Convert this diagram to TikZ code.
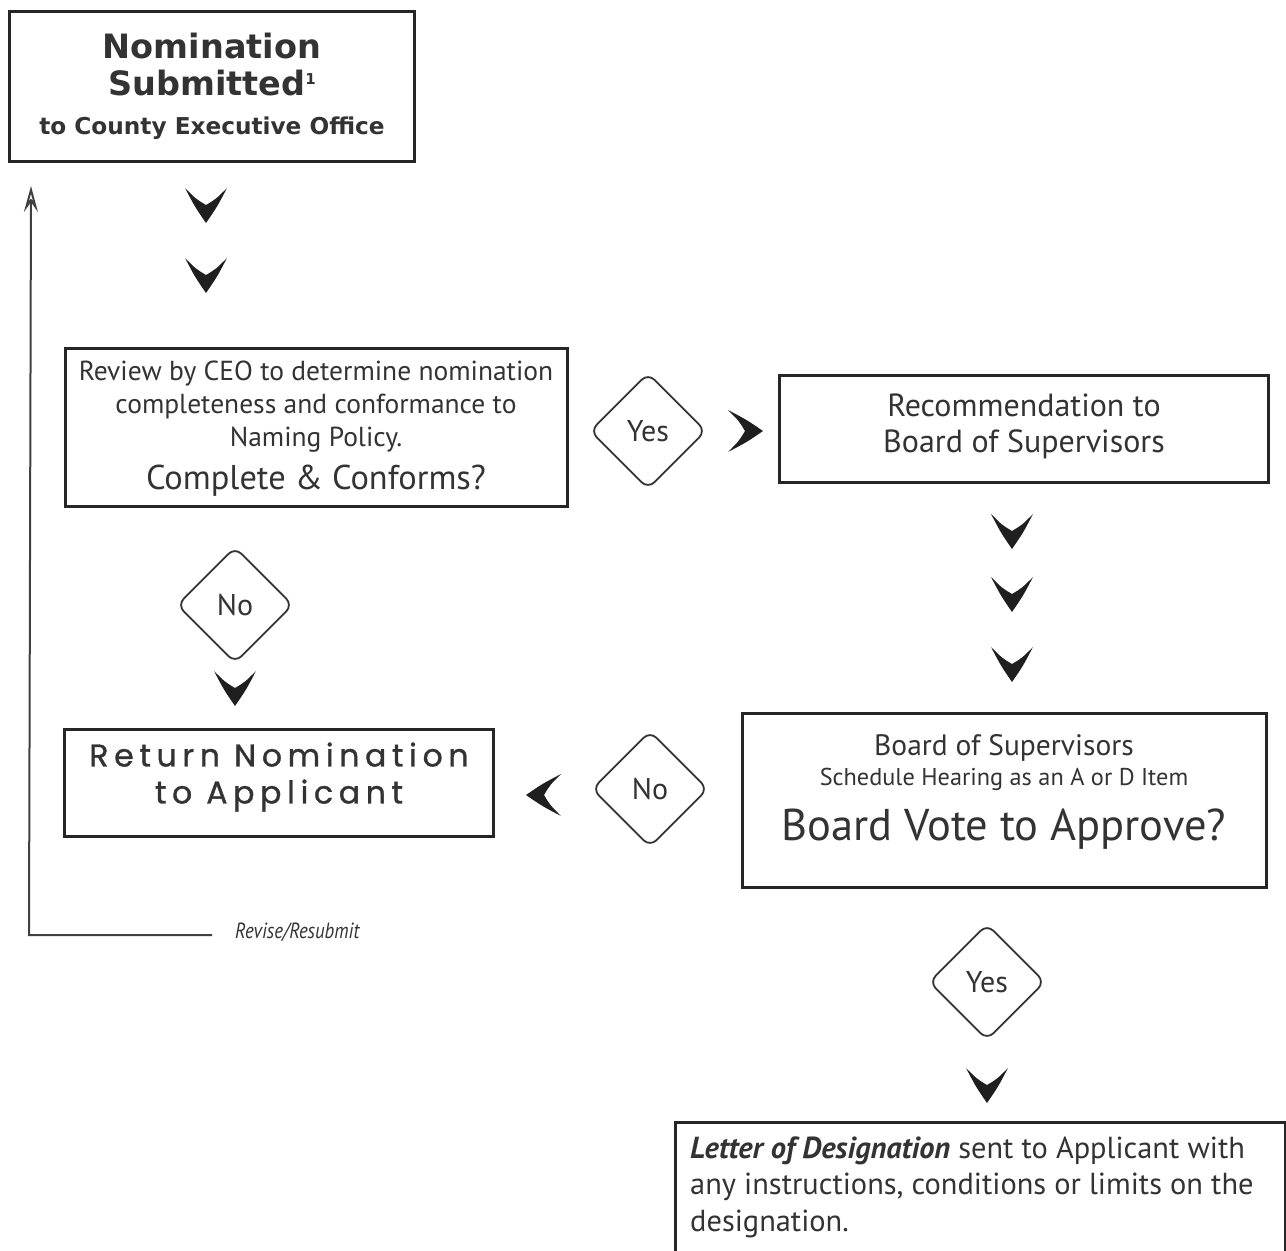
\documentclass[tikz,border=0pt]{standalone}
\usepackage{fontspec}
\setmainfont{PT Sans}
\newfontfamily\headfont{DejaVu Sans}
\newfontfamily\widefont{Poppins}[LetterSpace=18,FakeBold=1]
\newfontfamily\narrowfont{PT Sans}[FakeStretch=0.85]
\usetikzlibrary{shapes.geometric,arrows.meta,positioning}

\begin{document}
\begin{tikzpicture}[x=1pt,y=-1pt,
    box/.style={draw=black!85,line width=3pt,align=center,inner sep=0pt,text=black!80},
    choice/.style={diamond,draw=black!80,line width=1.8pt,rounded corners=9pt,minimum width=116pt,minimum height=116pt,inner sep=0pt,text=black!80,font=\fontsize{30}{30}\selectfont},
    chev/.pic={\fill[black!88] (-21,-17) .. controls (-11,2) .. (0,18) .. controls (11,2) .. (21,-17) .. controls (10,-6) .. (0,0) .. controls (-10,-6) .. (-21,-17) -- cycle;}]
				\useasboundingbox (0,0) rectangle (1286,1251);
				\clip (0,0) rectangle (1286,1251);
				\fill[white] (0,0) rectangle (1286,1251);

				% boxes
				\node[box,minimum width=405pt,minimum height=150pt,font=\headfont\bfseries\fontsize{33.5}{37}\selectfont] (sub) at (212,86) {Nomination\\ Submitted\raisebox{11pt}{\fontsize{15}{15}\selectfont 1}\\[2pt] \fontsize{23.2}{32}\selectfont to County Executive Office};
				\node[box,minimum width=502pt,minimum height=158pt,font=\fontsize{27.5}{33}\selectfont,text depth=4pt] (rev) at (316,427) {Review by CEO to determine nomination\\ completeness and conformance to\\ Naming Policy.\\[10pt] \fontsize{34.4}{40}\selectfont Complete \& Conforms?};
				\node[box,minimum width=489pt,minimum height=107pt,font=\fontsize{32}{36}\selectfont,text depth=12pt] (rec) at (1024,429) {Recommendation to\\ Board of Supervisors};
				\node[box,minimum width=429pt,minimum height=107pt,font=\widefont\fontsize{31.5}{37}\selectfont,text depth=20pt] (ret) at (279,783) {Return Nomination\\ to Applicant};
				\node[box,minimum width=524pt,minimum height=174pt,font=\fontsize{29.5}{30}\selectfont,text depth=25pt] (bos) at (1004,800) {Board of Supervisors\\ \fontsize{24.3}{32}\selectfont Schedule Hearing as an A or D Item\\[18pt] \fontsize{44.5}{49}\selectfont Board Vote to Approve?};
				\node[box,anchor=north west,minimum width=610pt,minimum height=170pt] (let) at (674,1121) {};
				\node[anchor=base west,align=left,inner sep=0pt,text=black!80,font=\fontsize{30.4}{36.5}\selectfont] (lettxt) at (690,1231) {\textbf{\textit{Letter of Designation}} sent to Applicant with\\ any instructions, conditions or limits on the\\ designation.};

				% decisions
				\node[choice] (yesa) at (648,431) {Yes};
				\node[choice] (noa) at (235,605) {No};
				\node[choice] (nob) at (650,789) {No};
				\node[choice] (yesb) at (987,982) {Yes};

				% chevrons
				\pic at (206,205) {chev};
				\pic at (206,275) {chev};
				\pic[rotate=90] at (745,431) {chev};
				\pic at (1012,531) {chev};
				\pic at (1012,594) {chev};
				\pic at (1012,664) {chev};
				\pic at (235,688) {chev};
				\pic[rotate=-90] at (544,795) {chev};
				\pic at (987,1085) {chev};

				% revise loop
				\coordinate (revend) at (212,935);
				\coordinate (revcorner) at (29,935);
				\coordinate (revtop) at (31,186);
				\draw[line width=2pt,black!75,-{Stealth[open,length=26pt,width=14pt,inset=10pt]}] (revend) -- (revcorner) -- (revtop);
				\node[anchor=base west,inner sep=0pt,text=black!80,font=\narrowfont\itshape\fontsize{22}{24}\selectfont] (revlabel) at (235,938) {Revise/Resubmit};

			\end{tikzpicture}
\end{document}
